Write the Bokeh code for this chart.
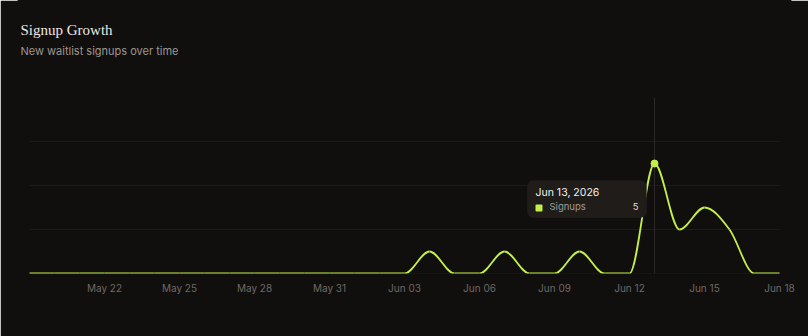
import numpy as np
import pandas as pd
from bokeh.plotting import figure
from bokeh.models import (Range1d, FixedTicker, DatetimeTickFormatter,
                          BoxAnnotation, Label)
from bokeh.embed import file_html
from bokeh.resources import INLINE

# ---- data ----
dates = ["2026-05-19", "2026-05-20", "2026-05-21", "2026-05-22", "2026-05-23",
         "2026-05-24", "2026-05-25", "2026-05-26", "2026-05-27", "2026-05-28",
         "2026-05-29", "2026-05-30", "2026-05-31", "2026-06-01", "2026-06-02",
         "2026-06-03", "2026-06-04", "2026-06-05", "2026-06-06", "2026-06-07",
         "2026-06-08", "2026-06-09", "2026-06-10", "2026-06-11", "2026-06-12",
         "2026-06-13", "2026-06-14", "2026-06-15", "2026-06-16", "2026-06-17",
         "2026-06-18"]
signups = [0, 0, 0, 0, 0, 0, 0, 0, 0, 0, 0, 0, 0, 0, 0, 0,
           1, 0, 0, 1, 0, 0, 1, 0, 0, 5, 2, 3, 2, 0, 0]
tick_dates = ["2026-05-22", "2026-05-25", "2026-05-28", "2026-05-31", "2026-06-03",
              "2026-06-06", "2026-06-09", "2026-06-12", "2026-06-15", "2026-06-18"]
y_ticks = [0, 2, 4, 6]
hover_date = "2026-06-13"
series_name = "Signups"
title_text = "Signup Growth"
subtitle_text = "New waitlist signups over time"

# ---- styling / geometry ----
BG = "#100f0e"
LIME = "#c4ef4a"
GRID = "#1d1b1a"
W, H = 808, 336
FRAME_L, FRAME_R, BOTTOM = 19, 19, 63     # canvas margins of the frame
PAD = 10                                   # px between frame edge and first/last date
PLOT_TOP = 97                              # px from top where the chart area begins
Y_MAX = 8                                  # value at the chart area's top

def ms(d):
    return pd.Timestamp(d).value / 1e6

xs = np.array([ms(d) for d in dates])
ys = np.array(signups, dtype=float)
DAY = 86400000.0
xd = (xs - xs[0]) / DAY

px_day = (W - FRAME_L - FRAME_R - 2 * PAD) / xd[-1]
px_unit = (H - BOTTOM - PLOT_TOP) / Y_MAX
def dx(px):
    return px / px_day * DAY
def dy(px):
    return px / px_unit
Y_TOP = dy(H - BOTTOM)

# monotone-X cubic (d3 curveMonotoneX) tangents, in units per day
n = len(xd)
t = np.zeros(n)
for i in range(1, n - 1):
    h0 = xd[i] - xd[i - 1]
    h1 = xd[i + 1] - xd[i]
    s0 = (ys[i] - ys[i - 1]) / h0
    s1 = (ys[i + 1] - ys[i]) / h1
    p_ = (s0 * h1 + s1 * h0) / (h0 + h1)
    t[i] = (np.sign(s0) + np.sign(s1)) * min(abs(s0), abs(s1), 0.5 * abs(p_))
t[0] = (3 * (ys[1] - ys[0]) / (xd[1] - xd[0]) - t[1]) / 2
t[-1] = (3 * (ys[-1] - ys[-2]) / (xd[-1] - xd[-2]) - t[-2]) / 2

hseg = (xd[1:] - xd[:-1]) / 3
cx0 = xs[:-1] + hseg * DAY
cy0 = ys[:-1] + hseg * t[:-1]
cx1 = xs[1:] - hseg * DAY
cy1 = ys[1:] - hseg * t[1:]

p = figure(width=W, height=H, output_backend="svg", toolbar_location=None,
           x_axis_type="datetime",
           x_range=Range1d(xs[0] - dx(PAD), xs[-1] + dx(PAD)),
           y_range=Range1d(0, Y_TOP),
           min_border_left=FRAME_L, min_border_right=FRAME_R,
           min_border_top=0, min_border_bottom=BOTTOM,
           background_fill_color=BG, border_fill_color=BG)
p.outline_line_color = BG
p.outline_line_width = 4
p.outline_line_alpha = 1

p.yaxis.visible = False
p.xgrid.visible = False
p.ygrid.visible = False

# horizontal grid lines across the date span
p.segment(x0=[xs[0]] * len(y_ticks), x1=[xs[-1]] * len(y_ticks),
          y0=y_ticks, y1=y_ticks, line_color=GRID, line_width=1)

ax = p.xaxis[0]
ax.ticker = FixedTicker(ticks=[ms(d) for d in tick_dates])
ax.formatter = DatetimeTickFormatter(days="%b %d", months="%b %d")
ax.axis_line_color = None
ax.major_tick_line_color = None
ax.minor_tick_line_color = None
ax.major_tick_out = 0
ax.major_tick_in = 0
ax.major_label_standoff = 8
ax.major_label_text_font = "Inter"
ax.major_label_text_font_size = "10px"
ax.major_label_text_color = "#6e6964"

# crosshair
hx = ms(hover_date)
hy = signups[dates.index(hover_date)]
p.segment(x0=[hx], y0=[0], x1=[hx], y1=[Y_MAX], line_color="#2b2826", line_width=1)

# line
p.bezier(x0=xs[:-1], y0=ys[:-1], x1=xs[1:], y1=ys[1:],
         cx0=cx0, cy0=cy0, cx1=cx1, cy1=cy1,
         line_color=LIME, line_width=1.8)

p.scatter([hx], [hy], size=7, fill_color=LIME, line_color=LIME)

# tooltip (static, hovered state)
tip_l, tip_r = hx - dx(127), hx - dx(8)
tip_t, tip_b = dy(93), dy(56)
p.add_layout(BoxAnnotation(left=tip_l, right=tip_r, top=tip_t, bottom=tip_b,
                           fill_color="#1f1c1a", fill_alpha=1.0,
                           line_color="#292624", line_width=1,
                           border_radius=6, level="overlay"))
p.add_layout(Label(x=tip_l + dx(8), y=dy(81),
                   text=pd.Timestamp(hover_date).strftime("%b %d, %Y").replace(" 0", " "),
                   text_font="Inter", text_font_size="10.5px", text_font_style="normal",
                   text_color="#f4f1ec", text_baseline="alphabetic", level="overlay"))
p.add_layout(BoxAnnotation(left=tip_l + dx(8), right=tip_l + dx(15),
                           top=dy(69), bottom=dy(62),
                           fill_color=LIME, fill_alpha=1.0, line_color=None,
                           border_radius=1, level="overlay"))
p.add_layout(Label(x=tip_l + dx(22), y=dy(67.5), text=series_name,
                   text_font="Inter", text_font_size="9.5px",
                   text_color="#a29c96", text_baseline="alphabetic", level="overlay"))
p.add_layout(Label(x=tip_r - dx(8), y=dy(67), text=str(hy),
                   text_font="Inter", text_font_size="9.5px",
                   text_color="#e2ded9", text_align="right",
                   text_baseline="alphabetic", level="overlay"))

# title and subtitle (top-left of the card)
x_title = xs[0] - dx(9)
p.add_layout(Label(x=x_title, y=dy(H - BOTTOM - 29.5), text=title_text,
                   text_font="Liberation Serif", text_font_size="15px",
                   text_color="#ece8e3", text_baseline="alphabetic"))
p.add_layout(Label(x=x_title, y=dy(H - BOTTOM - 50.5), text=subtitle_text,
                   text_font="Inter", text_font_size="11px",
                   text_color="#9c9690", text_baseline="alphabetic"))

open("out.html", "w").write(file_html(p, INLINE))
